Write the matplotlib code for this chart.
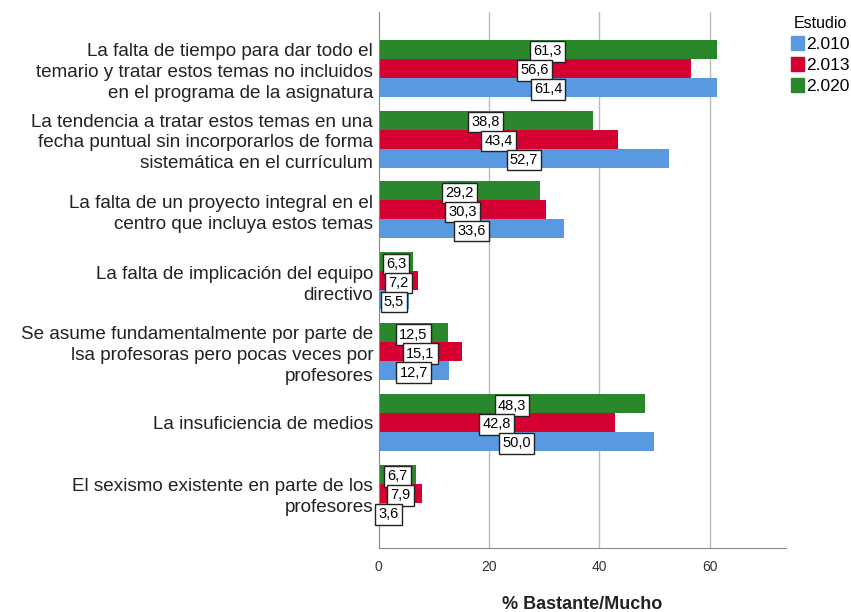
import numpy as np
import matplotlib.pyplot as plt

plt.rcParams['font.family'] = ['Liberation Sans', 'DejaVu Sans']

categories = [
    "La falta de tiempo para dar todo el\ntemario y tratar estos temas no incluidos\nen el programa de la asignatura",
    "La tendencia a tratar estos temas en una\nfecha puntual sin incorporarlos de forma\nsistemática en el currículum",
    "La falta de un proyecto integral en el\ncentro que incluya estos temas",
    "La falta de implicación del equipo\ndirectivo",
    "Se asume fundamentalmente por parte de\nlsa profesoras pero pocas veces por\nprofesores",
    "La insuficiencia de medios",
    "El sexismo existente en parte de los\nprofesores",
]
years = ["2.010", "2.013", "2.020"]
v2010 = [61.4, 52.7, 33.6, 5.5, 12.7, 50.0, 3.6]
v2013 = [56.6, 43.4, 30.3, 7.2, 15.1, 42.8, 7.9]
v2020 = [61.3, 38.8, 29.2, 6.3, 12.5, 48.3, 6.7]

colors = {"2.010": "#5899E2", "2.013": "#D50032", "2.020": "#2B872B"}

fig = plt.figure(figsize=(8.51, 6.12), dpi=100)
ax = fig.add_axes([0.445, 0.105, 0.479, 0.875])

y = np.arange(len(categories))
h = 0.268
# green on top, then red, then blue within each group
series = [("2.020", v2020, -h), ("2.013", v2013, 0.0), ("2.010", v2010, h)]
for name, vals, off in series:
    ax.barh(y + off, vals, height=h, color=colors[name], edgecolor="none", zorder=2)
    for yi, v in zip(y, vals):
        ax.text(v / 2, yi + off + 0.03, f"{v:.1f}".replace(".", ","),
                ha="center", va="center", fontsize=10.5, zorder=4,
                bbox=dict(boxstyle="square,pad=0.22", fc="white", ec="#222222", lw=1.0))

ax.set_xlim(0, 73.9)
ax.set_ylim(6.77, -0.79)
ax.set_xticks([0, 20, 40, 60])
ax.set_xticklabels(["0", "20", "40", "60"], fontsize=10, color="#333333")
ax.set_yticks(y)
ax.set_yticklabels(categories, fontsize=13.6, color="#222222", linespacing=1.3)
ax.tick_params(axis="both", length=0)
ax.tick_params(axis="x", pad=9)
ax.tick_params(axis="y", pad=4)
for xv in [20, 40, 60]:
    ax.axvline(xv, color="#BBBBBB", lw=1.0, zorder=1)
for s in ["top", "right"]:
    ax.spines[s].set_visible(False)
ax.spines["left"].set_color("#888888")
ax.spines["bottom"].set_color("#888888")

ax.set_xlabel("% Bastante/Mucho", fontsize=13, fontweight="bold", labelpad=16, color="#222222")

# legend outside, top right
handles = [plt.Rectangle((0, 0), 1, 1, color=colors[n]) for n in years]
leg = fig.legend(handles, years, title="Estudio", loc="upper left",
                 bbox_to_anchor=(0.925, 0.98), frameon=False, fontsize=12.5,
                 title_fontsize=11.5, handlelength=0.75, handleheight=0.85,
                 handletextpad=0.15, labelspacing=0.3, borderpad=0.2,
                 borderaxespad=0.0)

fig.savefig("out.png", dpi=100)
